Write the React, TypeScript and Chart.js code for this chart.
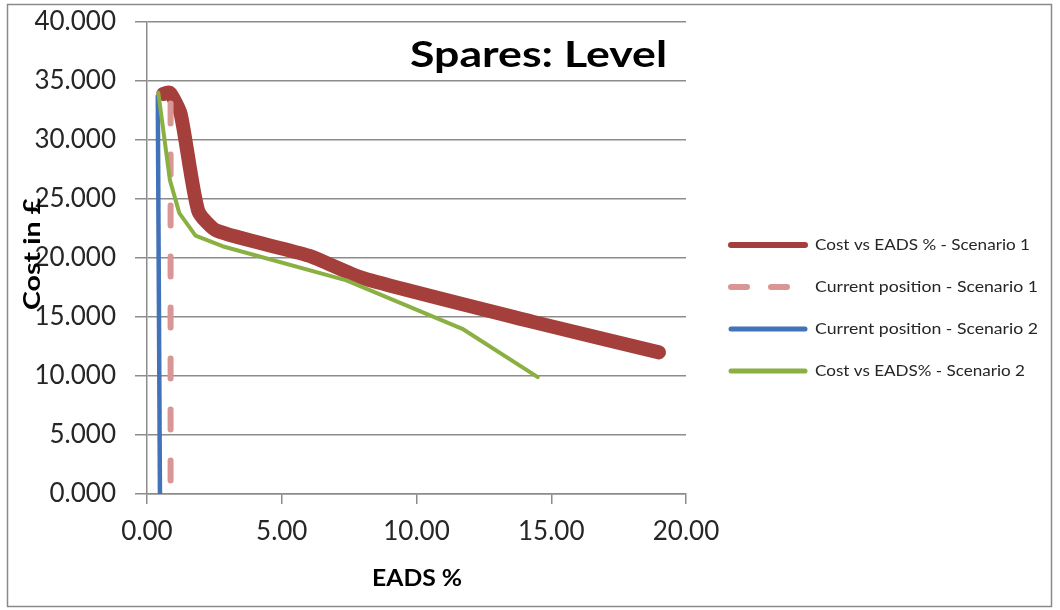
import React, { useEffect, useRef } from "react";
import { Chart, registerables } from "chart.js";

Chart.register(...registerables);

// ---- Data ----
const s1X = [0.6, 0.85, 1.25, 1.9, 2.6, 6.0, 8.0, 14.3, 19.0];
const s1Y = [33.9, 34.0, 32.2, 24.0, 22.3, 20.2, 18.3, 14.6, 12.0];

const cur1X = [0.875, 0.875];
const cur1Y = [33.1, 0];

const cur2X = [0.4, 0.48];
const cur2Y = [33.8, 0];

const s2X = [0.42, 0.85, 1.2, 1.8, 2.8, 7.4, 11.7, 14.5];
const s2Y = [34.0, 26.6, 23.8, 21.9, 21.0, 18.1, 14.0, 9.9];

const seriesNames = [
  "Cost vs EADS % - Scenario 1",
  "Current position - Scenario 1",
  "Current position - Scenario 2",
  "Cost vs EADS% - Scenario 2",
];
const titleText = "Spares: Level";
const xTitle = "EADS %";
const yTitle = "Cost in £";
const xTicks = [0, 5, 10, 15, 20];
const yTicks = [0, 5, 10, 15, 20, 25, 30, 35, 40];

const RED = "#A53F3B";
const PINK = "#D99694";
const BLUE = "#4272B8";
const GREEN = "#8AB043";

const pts = (xs: number[], ys: number[]) => xs.map((x, i) => ({ x, y: ys[i] }));

function fitText(
  ctx: CanvasRenderingContext2D,
  text: string,
  x: number,
  y: number,
  width: number,
  font: string,
  align: "left" | "center" | "right"
) {
  ctx.save();
  ctx.font = font;
  ctx.textAlign = "left";
  const w = ctx.measureText(text).width;
  const s = width / w;
  ctx.translate(x, y);
  ctx.scale(s, 1);
  const off = align === "center" ? -w / 2 : align === "right" ? -w : 0;
  ctx.fillText(text, off, 0);
  ctx.restore();
}

const customPlugin = {
  id: "custom",
  beforeDraw(chart: any) {
    const ctx = chart.ctx as CanvasRenderingContext2D;
    ctx.save();
    ctx.fillStyle = "#ffffff";
    ctx.fillRect(0, 0, chart.width, chart.height);
    ctx.restore();
  },
  afterDraw(chart: any) {
    const ctx = chart.ctx as CanvasRenderingContext2D;
    ctx.save();
    // outer border
    ctx.strokeStyle = "#8a8a8a";
    ctx.lineWidth = 1.5;
    ctx.strokeRect(7.5, 4.5, 1044, 602);

    // title
    ctx.fillStyle = "#000000";
    ctx.textBaseline = "alphabetic";
    fitText(ctx, titleText, 410, 67, 257, "bold 36px Lato", "left");

    // axis titles
    fitText(ctx, xTitle, 417, 586, 90, "bold 22px Lato", "center");
    ctx.save();
    ctx.translate(40, 254);
    ctx.rotate(-Math.PI / 2);
    fitText(ctx, yTitle, 0, 0, 112, "bold 22px Lato", "center");
    ctx.restore();

    // legend
    const items = [
      { color: RED, width: 6, dash: [] as number[], y: 245, tw: 215 },
      { color: PINK, width: 6, dash: [16, 24], y: 287, tw: 223 },
      { color: BLUE, width: 5, dash: [] as number[], y: 329, tw: 223 },
      { color: GREEN, width: 5, dash: [] as number[], y: 371, tw: 210 },
    ];
    items.forEach((it, i) => {
      ctx.save();
      ctx.strokeStyle = it.color;
      ctx.lineWidth = it.width;
      ctx.lineCap = "round";
      ctx.setLineDash(it.dash);
      ctx.beginPath();
      ctx.moveTo(731, it.y);
      ctx.lineTo(805, it.y);
      ctx.stroke();
      ctx.restore();
      ctx.fillStyle = "#262626";
      ctx.textBaseline = "middle";
      fitText(ctx, seriesNames[i], 815, it.y, it.tw, "15px Lato", "left");
    });
    ctx.restore();
  },
};

export default function App() {
  const ref = useRef<HTMLCanvasElement | null>(null);
  useEffect(() => {
    if (!ref.current) return;
    const chart = new Chart(ref.current, {
      type: "scatter",
      data: {
        datasets: [
          {
            label: seriesNames[0],
            data: pts(s1X, s1Y),
            showLine: true,
            borderColor: RED,
            backgroundColor: RED,
            borderWidth: 14,
            borderCapStyle: "round",
            borderJoinStyle: "round",
            tension: 0.2,
            pointRadius: 0,
            order: 4,
          },
          {
            label: seriesNames[1],
            data: pts(cur1X, cur1Y),
            showLine: true,
            borderColor: PINK,
            backgroundColor: PINK,
            borderWidth: 6,
            borderDash: [20, 31],
            borderCapStyle: "round",
            pointRadius: 0,
            order: 3,
          },
          {
            label: seriesNames[2],
            data: pts(cur2X, cur2Y),
            showLine: true,
            borderColor: BLUE,
            backgroundColor: BLUE,
            borderWidth: 4.5,
            pointRadius: 0,
            order: 2,
          },
          {
            label: seriesNames[3],
            data: pts(s2X, s2Y),
            showLine: true,
            borderColor: GREEN,
            backgroundColor: GREEN,
            borderWidth: 4,
            borderJoinStyle: "round",
            borderCapStyle: "round",
            pointRadius: 0,
            order: 1,
          },
        ],
      },
      options: {
        responsive: false,
        animation: false,
        devicePixelRatio: 1,
        layout: { padding: { top: 22, right: 374, left: 0, bottom: 0 } },
        plugins: {
          legend: { display: false },
          tooltip: { enabled: false },
          title: { display: false },
        },
        scales: {
          x: {
            type: "linear",
            min: 0,
            max: 20,
            afterFit: (s: any) => {
              s.height = 116;
              s.paddingLeft = 0;
              s.paddingRight = 0;
            },
            afterBuildTicks: (s: any) => {
              s.ticks = xTicks.map((v) => ({ value: v }));
            },
            ticks: {
              padding: 12,
              color: "#262626",
              font: { family: "Lato", size: 26 },
              callback: (v: any) => Number(v).toFixed(2),
              maxRotation: 0,
            },
            grid: {
              drawOnChartArea: false,
              drawTicks: true,
              tickLength: 10,
              color: "#8c8c8c",
              lineWidth: 1.5,
            },
            border: { display: true, color: "#8c8c8c", width: 1.5 },
          },
          y: {
            type: "linear",
            min: 0,
            max: 40,
            afterFit: (s: any) => {
              s.width = 147;
              s.paddingTop = 0;
              s.paddingBottom = 0;
            },
            afterBuildTicks: (s: any) => {
              s.ticks = yTicks.map((v) => ({ value: v }));
            },
            ticks: {
              padding: 19,
              color: "#262626",
              font: { family: "Lato", size: 26 },
              callback: (v: any) => Number(v).toFixed(3),
            },
            grid: {
              drawOnChartArea: true,
              drawTicks: true,
              tickLength: 12,
              color: "#8c8c8c",
              lineWidth: 1.5,
            },
            border: { display: true, color: "#8c8c8c", width: 1.5 },
          },
        },
      },
      plugins: [customPlugin],
    } as any);
    return () => chart.destroy();
  }, []);

  return (
    <div style={{ position: "absolute", left: 0, top: 0, width: 1060, height: 610 }}>
      <canvas ref={ref} width={1060} height={610} style={{ width: 1060, height: 610 }} />
    </div>
  );
}
